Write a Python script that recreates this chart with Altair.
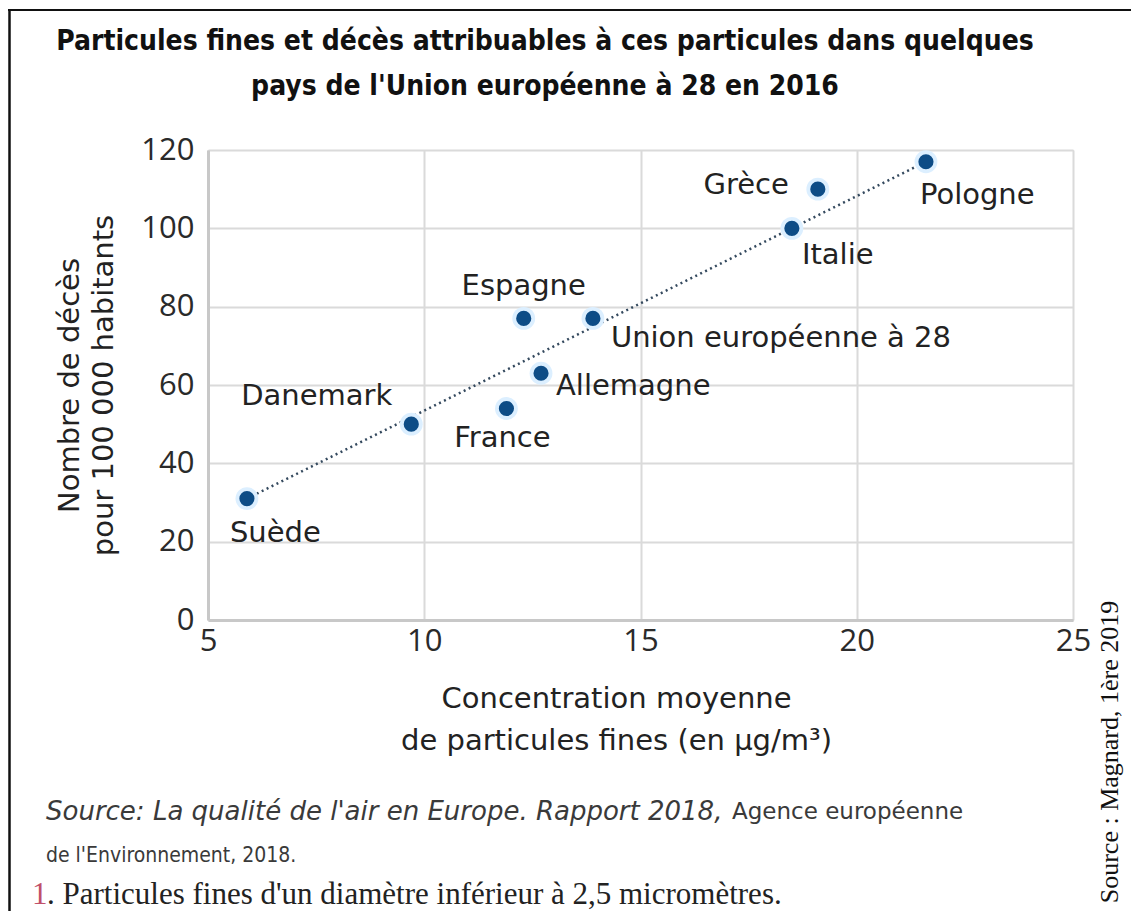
import altair as alt
import pandas as pd

# ---- data ----
pays = ["Suède", "Danemark", "France", "Allemagne", "Espagne",
        "Union européenne à 28", "Italie", "Grèce", "Pologne"]
concentration = [5.9, 9.7, 11.9, 12.7, 12.3, 13.9, 18.5, 19.1, 21.6]
deces = [31, 50, 54, 63, 77, 77, 100, 110, 117]
tendance_x = [5.9, 21.6]
tendance_y = [31, 117]
x_ticks = [5, 10, 15, 20, 25]
y_ticks = [0, 20, 40, 60, 80, 100, 120]

titre_1 = "Particules fines et décès attribuables à ces particules dans quelques"
titre_2 = "pays de l'Union européenne à 28 en 2016"
titre_x = ["Concentration moyenne", "de particules fines (en µg/m³)"]
titre_y = ["Nombre de décès", "pour 100 000 habitants"]
source_it = "Source: La qualité de l'air en Europe. Rapport 2018,"
source_rest = "Agence européenne"
source_2 = "de l'Environnement, 2018."
note_num = "1"
note = ". Particules fines d'un diamètre inférieur à 2,5 micromètres."
credit = "Source : Magnard, 1ère 2019"

df = pd.DataFrame({"pays": pays, "concentration": concentration, "deces": deces})
df_trend = pd.DataFrame({"concentration": tendance_x, "deces": tendance_y})
one = pd.DataFrame({"k": [0]})

W, H = 865, 470
LABEL_FONT = "DejaVu Sans"
TICK_FONT = "Open Sans"

xs = alt.Scale(domain=[5, 25], nice=False, zero=False)
ys = alt.Scale(domain=[0, 120], nice=False)

common = dict(titleFontSize=29, titleFont=LABEL_FONT, titleFontWeight="normal",
              titleColor="#222", labelFontSize=31, labelFont=TICK_FONT,
              labelColor="#2a2a2a", labelFlush=False, labelOverlap=False,
              ticks=False, grid=True, gridColor="#dadada", gridWidth=2,
              domainColor="#c8c8c8", domainWidth=3)
x_axis = alt.Axis(values=x_ticks, title=titre_x, titlePadding=28, titleLineHeight=42,
                  titleX=408, labelPadding=6, **common)
y_axis = alt.Axis(values=y_ticks, title=titre_y, titlePadding=22, titleLineHeight=34,
                  labelPadding=14, **common)

base = alt.Chart(df)

trend = alt.Chart(df_trend).mark_line(
    color="#34495e", strokeWidth=2.5, strokeDash=[2, 3.5]
).encode(
    x=alt.X("concentration:Q", scale=xs, axis=x_axis),
    y=alt.Y("deces:Q", scale=ys, axis=y_axis),
)

halo = base.mark_circle(size=520, color="#dcefff", opacity=1).encode(
    x=alt.X("concentration:Q", scale=xs),
    y=alt.Y("deces:Q", scale=ys),
)
points = base.mark_circle(size=230, color="#0d4c86", opacity=1).encode(
    x=alt.X("concentration:Q", scale=xs),
    y=alt.Y("deces:Q", scale=ys),
)

placement = {
    "Suède": dict(align="left", dx=-17, dy=34),
    "Danemark": dict(align="right", dx=-19, dy=-28),
    "France": dict(align="center", dx=-4, dy=29),
    "Allemagne": dict(align="left", dx=15, dy=13),
    "Espagne": dict(align="center", dx=0, dy=-32),
    "Union européenne à 28": dict(align="left", dx=18, dy=20),
    "Italie": dict(align="left", dx=10, dy=27),
    "Grèce": dict(align="right", dx=-29, dy=-4),
    "Pologne": dict(align="left", dx=-6, dy=33),
}
labels = []
for name, p in placement.items():
    labels.append(
        base.transform_filter(alt.datum.pays == name).mark_text(
            font=LABEL_FONT, fontSize=29, color="#222", baseline="middle", **p
        ).encode(
            x=alt.X("concentration:Q", scale=xs),
            y=alt.Y("deces:Q", scale=ys),
            text="pays:N",
        )
    )

def ann(txt, x, y, **kw):
    return alt.Chart(one).mark_text(text=txt, **kw).encode(x=alt.value(x), y=alt.value(y))

TITLE_FONT = "DejaVu Sans Condensed"
texts = [
    ann(titre_1, 337, -108, align="center", baseline="middle", font=TITLE_FONT,
        fontWeight="bold", fontSize=28, color="#111"),
    ann(titre_2, 337, -63, align="center", baseline="middle", font=TITLE_FONT,
        fontWeight="bold", fontSize=28, color="#111"),
    ann(source_it, -162, 662, align="left", baseline="middle", font=LABEL_FONT,
        fontStyle="italic", fontSize=26, color="#3a3a3a"),
    ann(source_rest, 524, 662, align="left", baseline="middle", font=LABEL_FONT,
        fontSize=23, color="#3a3a3a"),
    ann(source_2, -162, 706, align="left", baseline="middle", font="DejaVu Sans Condensed",
        fontSize=21, color="#3a3a3a"),
    ann(note_num, -176, 745, align="left", baseline="middle", font="Liberation Serif",
        fontSize=31, color="#c0506a"),
    ann(note, -161, 745, align="left", baseline="middle", font="Liberation Serif",
        fontSize=31, color="#222"),
    ann(credit, 902, 602, align="center", baseline="middle", font="Liberation Serif",
        fontSize=26, color="#111", angle=270),
]

frame = [
    alt.Chart(one).mark_rule(color="#111", strokeWidth=2).encode(
        x=alt.value(-208), x2=alt.value(W + 60), y=alt.value(-140)),
    alt.Chart(one).mark_rule(color="#111", strokeWidth=2.5).encode(
        x=alt.value(-198.5), y=alt.value(-140), y2=alt.value(H + 300)),
]

chart = alt.layer(trend, halo, points, *labels, *texts, *frame).properties(
    width=W, height=H,
    autosize=alt.AutoSizeParams(type="none"),
    padding={"left": 200, "top": 142, "right": 58, "bottom": 291},
).configure_view(stroke=None).configure(background="white")

chart.save("out.html", embed_options={"renderer": "svg", "actions": False})
